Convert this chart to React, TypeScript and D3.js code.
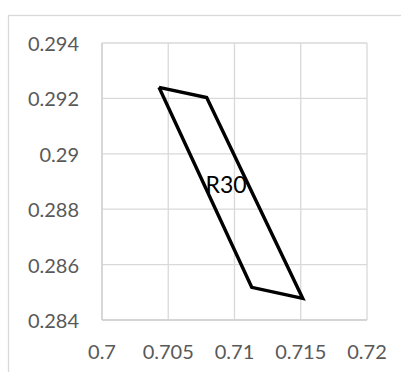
import React from "react";
import * as d3 from "d3";

const xTicks = [0.7, 0.705, 0.71, 0.715, 0.72];
const yTicks = [0.284, 0.286, 0.288, 0.29, 0.292, 0.294];
const xTickLabels = ["0.7", "0.705", "0.71", "0.715", "0.72"];
const yTickLabels = ["0.284", "0.286", "0.288", "0.29", "0.292", "0.294"];

// polygon vertices (R30)
const polyX = [0.7043, 0.7079, 0.71515, 0.7113, 0.7043];
const polyY = [0.2924, 0.29203, 0.28478, 0.28518, 0.2924];

const labelText = "R30";
const labelX = [0.70936];
const labelY = [0.28858];

const W = 401;
const H = 372;
const plot = { left: 102, right: 367, top: 43, bottom: 320 };

export default function App() {
  const x = d3.scaleLinear().domain([0.7, 0.72]).range([plot.left, plot.right]);
  const y = d3.scaleLinear().domain([0.284, 0.294]).range([plot.bottom, plot.top]);
  const pts: [number, number][] = polyX.map((v, i) => [v, polyY[i]]);
  const line = d3
    .line<[number, number]>()
    .x((d) => x(d[0]))
    .y((d) => y(d[1]));
  const font = "Lato, 'Open Sans', sans-serif";
  return (
    <svg
      width={W}
      height={H}
      style={{ position: "absolute", left: 0, top: 0, background: "#fff" }}
    >
      <rect x={0} y={0} width={W} height={H} fill="#fff" />
      <rect
        x={8.5}
        y={15.5}
        width={W + 10}
        height={H + 10}
        fill="none"
        stroke="#d9d9d9"
        strokeWidth={1.3}
      />
      {xTicks.map((t, i) => (
        <line
          key={"gx" + i}
          x1={x(t)}
          x2={x(t)}
          y1={plot.top}
          y2={plot.bottom}
          stroke="#d9d9d9"
          strokeWidth={1.3}
        />
      ))}
      {yTicks.map((t, i) => (
        <line
          key={"gy" + i}
          x1={plot.left}
          x2={plot.right}
          y1={y(t)}
          y2={y(t)}
          stroke="#d9d9d9"
          strokeWidth={1.3}
        />
      ))}
      <line
        x1={plot.left}
        x2={plot.left}
        y1={plot.top}
        y2={plot.bottom}
        stroke="#d0d0d0"
        strokeWidth={1.3}
      />
      <line
        x1={plot.left}
        x2={plot.right}
        y1={plot.bottom}
        y2={plot.bottom}
        stroke="#d0d0d0"
        strokeWidth={1.3}
      />
      {yTicks.map((t, i) => (
        <text
          key={"ty" + i}
          x={79}
          y={y(t)}
          textAnchor="end"
          dominantBaseline="central"
          fontFamily={font}
          fontSize={20}
          fill="#595959"
        >
          {yTickLabels[i]}
        </text>
      ))}
      {xTicks.map((t, i) => (
        <text
          key={"tx" + i}
          x={x(t)}
          y={351}
          textAnchor="middle"
          dominantBaseline="central"
          fontFamily={font}
          fontSize={20}
          fill="#595959"
        >
          {xTickLabels[i]}
        </text>
      ))}
      <path
        d={line(pts) || ""}
        fill="none"
        stroke="#000"
        strokeWidth={3.4}
        strokeLinejoin="miter"
      />
      <text
        x={x(labelX[0])}
        y={y(labelY[0])}
        textAnchor="middle"
        fontFamily={font}
        fontSize={23}
        fill="#000"
      >
        {labelText}
      </text>
    </svg>
  );
}
